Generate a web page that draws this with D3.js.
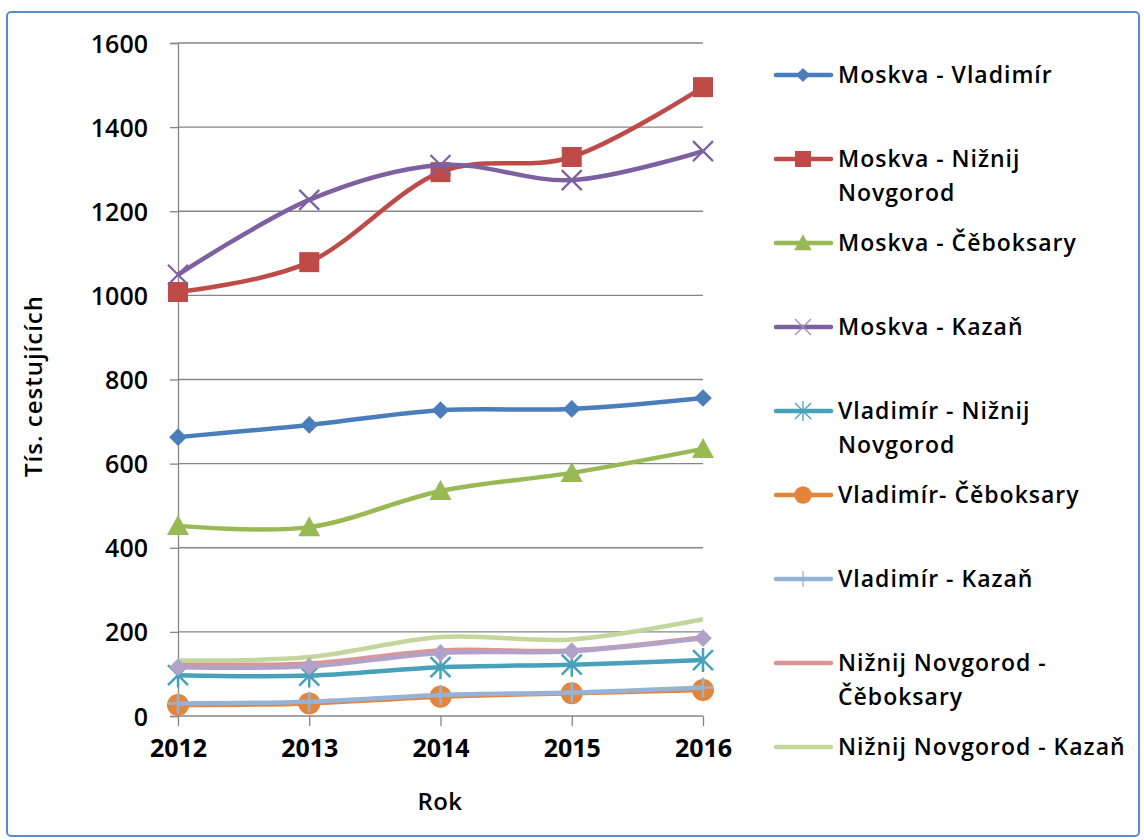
<!DOCTYPE html>
<html>
<head>
<meta charset="utf-8">
<script src="https://cdn.jsdelivr.net/npm/d3@7"></script>
<style>
  body { margin: 0; background: #fff; }
  text { font-family: "Open Sans", Lato, sans-serif; fill: #000; }
</style>
</head>
<body>
<svg id="chart" width="1144" height="840"></svg>
<script>
// data
var years = [2012, 2013, 2014, 2015, 2016];
var yTicks = [0, 200, 400, 600, 800, 1000, 1200, 1400, 1600];

var moskvaVladimir = [663, 692, 727, 730, 756];
var moskvaNizhny = [1008, 1079, 1293, 1329, 1495];
var moskvaCheboksary = [452, 449, 535, 578, 635];
var moskvaKazan = [1049, 1227, 1310, 1274, 1343];
var vladimirNizhny = [97, 96, 116, 122, 133];
var vladimirCheboksary = [26, 30, 46, 54, 62];
var vladimirKazan = [30, 34, 50, 56, 68];
var nizhnyCheboksary = [123, 125, 156, 156, 187];
var nizhnyKazan = [132, 140, 188, 182, 230];
var unlisted = [116, 118, 150, 154, 185];   // 9th series, not in legend

// legend labels, '\n' = line break as in the original legend
var seriesNames = ['Moskva - Vladimír', 'Moskva - Nižnij\nNovgorod', 'Moskva - Čěboksary',
  'Moskva - Kazaň', 'Vladimír - Nižnij\nNovgorod', 'Vladimír- Čěboksary',
  'Vladimír - Kazaň', 'Nižnij Novgorod -\nČěboksary', 'Nižnij Novgorod - Kazaň', ''];

var seriesValues = [moskvaVladimir, moskvaNizhny, moskvaCheboksary, moskvaKazan,
  vladimirNizhny, vladimirCheboksary, vladimirKazan, nizhnyCheboksary, nizhnyKazan, unlisted];

var colors = ['#4A7EBB', '#BE4B48', '#98B954', '#7D60A0', '#46A1B9', '#E5853B',
  '#95B3D7', '#D99694', '#C3D69B', '#B3A2C7'];
var markers = ['diamond', 'square', 'triangle', 'x', 'star', 'circle', 'plus', 'none', 'none', 'diamond'];

var svg = d3.select('#chart');

// outer frame
svg.append('rect')
   .attr('x', 7).attr('y', 12)
   .attr('width', 1132).attr('height', 824)
   .attr('rx', 4)
   .attr('fill', '#fff')
   .attr('stroke', '#5B8BCB')
   .attr('stroke-width', 2);

var x = d3.scalePoint().domain(years).range([178, 703]);
var y = d3.scaleLinear().domain([0, 1600]).range([716, 43]);

// y axis + grid
var yAxis = d3.axisLeft(y)
              .tickValues(yTicks)
              .tickFormat(d3.format('d'))
              .tickSize(8)
              .tickPadding(22);
var gy = svg.append('g')
            .attr('transform', 'translate(178,0)')
            .call(yAxis);
gy.select('.domain').attr('stroke', '#868686').attr('stroke-width', 1.3);
gy.selectAll('.tick line').attr('stroke', '#868686').attr('stroke-width', 1.3);
gy.selectAll('.tick text')
  .style('font-size', '25px').style('font-weight', 600)
  .attr('dy', '0.36em');

svg.append('g').selectAll('line')
   .data(yTicks.filter(d => d > 0))
   .enter().append('line')
   .attr('x1', 178).attr('x2', 703)
   .attr('y1', d => y(d)).attr('y2', d => y(d))
   .attr('stroke', '#868686').attr('stroke-width', 1.3);

// x axis
var xAxis = d3.axisBottom(x).tickSize(10).tickPadding(13);
var gx = svg.append('g')
            .attr('transform', 'translate(0,716)')
            .call(xAxis);
gx.select('.domain').attr('stroke', '#868686').attr('stroke-width', 1.3).attr('d', 'M178,0H703');
gx.selectAll('.tick line').attr('stroke', '#868686').attr('stroke-width', 1.3);
gx.selectAll('.tick text')
  .style('font-size', '25px').style('font-weight', 700);

// axis titles
svg.append('text')
   .attr('x', 440).attr('y', 810)
   .attr('text-anchor', 'middle')
   .style('font-size', '24px').style('font-weight', 600)
   .style('letter-spacing', '0.5px')
   .text('Rok');

svg.append('text')
   .attr('transform', 'translate(42,386) rotate(-90)')
   .attr('text-anchor', 'middle')
   .style('font-size', '24px').style('font-weight', 600)
   .style('letter-spacing', '1px')
   .text('Tís. cestujících');

// marker drawing
function drawMarker(g, type, color, cx, cy, legend) {
  var s = legend ? 0.8 : 1;
  if (type === 'diamond') {
    g.append('path').attr('d', d3.symbol().type(d3.symbolDiamond2).size(200 * s * s)())
     .attr('transform', 'translate(' + cx + ',' + cy + ')').attr('fill', color);
  } else if (type === 'square') {
    g.append('rect').attr('x', cx - 10 * s).attr('y', cy - 10 * s)
     .attr('width', 20 * s).attr('height', 20 * s).attr('fill', color);
  } else if (type === 'triangle') {
    g.append('path').attr('d', 'M0,' + (-11 * s) + 'L' + (11 * s) + ',' + (9 * s) + 'L' + (-11 * s) + ',' + (9 * s) + 'Z')
     .attr('transform', 'translate(' + cx + ',' + cy + ')').attr('fill', color);
  } else if (type === 'circle') {
    g.append('circle').attr('cx', cx).attr('cy', cy).attr('r', 11 * s).attr('fill', color);
  } else if (type === 'x') {
    var r = 10 * s;
    g.append('path').attr('d', 'M' + (-r) + ',' + (-r) + 'L' + r + ',' + r + 'M' + (-r) + ',' + r + 'L' + r + ',' + (-r))
     .attr('transform', 'translate(' + cx + ',' + cy + ')')
     .attr('stroke', legend ? '#A08CC0' : color).attr('stroke-width', legend ? 1.3 : 2.2).attr('fill', 'none');
  } else if (type === 'star') {
    var r2 = 10 * s;
    g.append('path').attr('d', 'M' + (-r2) + ',' + (-r2) + 'L' + r2 + ',' + r2 + 'M' + (-r2) + ',' + r2 + 'L' + r2 + ',' + (-r2) + 'M0,' + (-r2 - 2) + 'L0,' + (r2 + 2))
     .attr('transform', 'translate(' + cx + ',' + cy + ')')
     .attr('stroke', color).attr('stroke-width', legend ? 1.3 : 2.5).attr('fill', 'none');
  } else if (type === 'plus') {
    var r3 = 10 * s;
    g.append('path').attr('d', 'M' + (-r3) + ',0L' + r3 + ',0M0,' + (-r3) + 'L0,' + r3)
     .attr('transform', 'translate(' + cx + ',' + cy + ')')
     .attr('stroke', color).attr('stroke-width', legend ? 1.3 : 2.5).attr('fill', 'none');
  }
}

var line = d3.line()
             .x((d, i) => x(years[i]))
             .y(d => y(d))
             .curve(d3.curveCardinal.tension(0));

var plot = svg.append('g');
seriesValues.forEach(function(vals, si) {
  var g = plot.append('g');
  g.append('path')
   .attr('d', line(vals))
   .attr('fill', 'none')
   .attr('stroke', colors[si])
   .attr('stroke-width', 4.5)
   .attr('stroke-linejoin', 'round');
  vals.forEach(function(v, i) {
    drawMarker(g, markers[si], colors[si], x(years[i]), y(v), false);
  });
});

// legend
var legend = svg.append('g');
seriesNames.forEach(function(name, i) {
  if (!name) return;
  var ly = 75 + i * 84;
  var g = legend.append('g');
  g.append('line')
   .attr('x1', 776).attr('x2', 831).attr('y1', ly).attr('y2', ly)
   .attr('stroke', colors[i]).attr('stroke-width', 4.5).attr('stroke-linecap', 'round');
  drawMarker(g, markers[i], colors[i], 803, ly, true);

  var t = g.append('text')
           .attr('x', 838).attr('y', ly + 8)
           .style('font-size', '23px').style('font-weight', 600)
           .style('letter-spacing', '1px');
  name.split('\n').forEach(function(part, k) {
    t.append('tspan')
     .attr('x', 838)
     .attr('dy', k === 0 ? 0 : 34)
     .text(part);
  });
});
</script>
</body>
</html>
